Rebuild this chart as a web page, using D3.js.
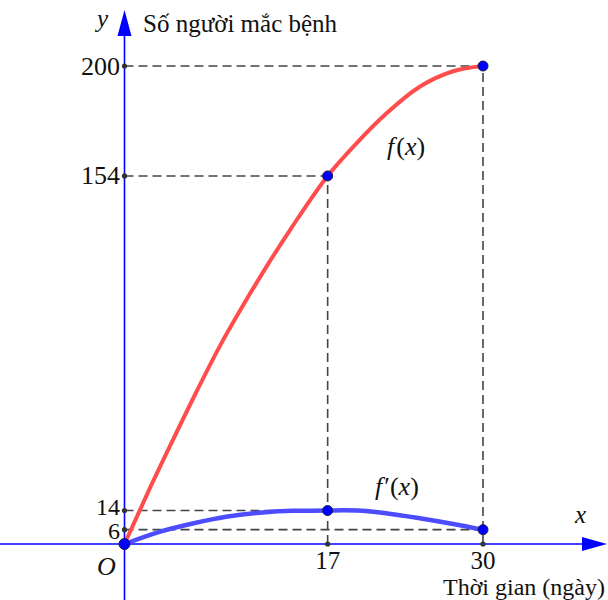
<!DOCTYPE html>
<html>
<head>
<meta charset="utf-8">
<script src="https://cdn.jsdelivr.net/npm/d3@7"></script>
<style>
  html, body { margin: 0; padding: 0; background: #fff; }
  svg text { font-family: "Liberation Serif", serif; fill: #111; }
</style>
</head>
<body>
<svg id="chart" width="608" height="600"></svg>
<script>
// ---- data ----
const fX = [0, 2, 4, 6, 8, 10, 12, 14, 17, 19.2, 22, 24.7, 27.5, 30];
const fY = [0, 22, 43, 63.5, 83, 100.5, 117, 132.5, 154, 166.5, 180.5, 191.3, 197.8, 200];
const dX = [0, 3, 5.8, 8.5, 11.3, 14.1, 17, 18.3, 19.5, 22, 24.7, 27.5, 30];
const dY = [0, 5.2, 8.7, 11.4, 13.1, 13.9, 14, 14.1, 14, 12.8, 10.8, 8.4, 6];
const xTicks = [17, 30];
const yTicks = [200, 154, 14, 6];
const markedX = [0, 17, 30, 17, 30];
const markedY = [0, 154, 200, 14, 6];
const guideH = [[200, 30], [154, 17], [14, 17], [6, 30]];   // [y value, x end]
const guideV = [[17, 154], [30, 200]];                       // [x value, y end]

const FONT = "Liberation Serif, serif";
const svg = d3.select("#chart");
const x = d3.scaleLinear().domain([0, 30]).range([124.5, 483]);
const y = d3.scaleLinear().domain([0, 200]).range([544, 66]);

const blue = "#0000ff";

// axes lines
svg.append("line").attr("x1", 0).attr("x2", 590).attr("y1", y(0)).attr("y2", y(0))
  .attr("stroke", blue).attr("stroke-width", 1.6);
svg.append("line").attr("x1", x(0)).attr("x2", x(0)).attr("y1", 600).attr("y2", 28)
  .attr("stroke", blue).attr("stroke-width", 1.6);
// arrow heads
svg.append("path")
  .attr("d", `M${x(0)},10 L${x(0) - 7},36 L${x(0) + 7},36 Z`).attr("fill", blue);
svg.append("path")
  .attr("d", `M607,${y(0)} L582,${y(0) - 7} L582,${y(0) + 7} Z`).attr("fill", blue);

// dashed guide lines
const dash = "9,5";
guideH.forEach(([v, xe]) => {
  svg.append("line").attr("x1", x(0)).attr("x2", x(xe)).attr("y1", y(v)).attr("y2", y(v))
    .attr("stroke", "#444").attr("stroke-width", 1.6).attr("stroke-dasharray", dash);
});
guideV.forEach(([v, ye]) => {
  svg.append("line").attr("x1", x(v)).attr("x2", x(v)).attr("y1", y(0)).attr("y2", y(ye))
    .attr("stroke", "#444").attr("stroke-width", 1.6).attr("stroke-dasharray", dash);
});

// small tick dots on axes
yTicks.forEach(v => svg.append("circle").attr("cx", x(0)).attr("cy", y(v)).attr("r", 2.6).attr("fill", "#333"));
xTicks.forEach(v => svg.append("circle").attr("cx", x(v)).attr("cy", y(0)).attr("r", 2.6).attr("fill", "#333"));

// curves
const line = d3.line().x(d => x(d[0])).y(d => y(d[1])).curve(d3.curveMonotoneX);
svg.append("path").datum(fX.map((v, i) => [v, fY[i]])).attr("d", line)
  .attr("fill", "none").attr("stroke", "#ff4d4d").attr("stroke-width", 4).attr("stroke-linecap", "round");
svg.append("path").datum(dX.map((v, i) => [v, dY[i]])).attr("d", line)
  .attr("fill", "none").attr("stroke", "#4d4dff").attr("stroke-width", 4.5).attr("stroke-linecap", "round");

// marked points
markedX.forEach((v, i) => {
  svg.append("circle").attr("cx", x(v)).attr("cy", y(markedY[i])).attr("r", i === 0 ? 5.5 : 5)
    .attr("fill", blue).attr("stroke", "#1a1a4d").attr("stroke-width", 1);
});

function txt(xp, yp, size, s, opts = {}) {
  const t = svg.append("text").attr("x", xp).attr("y", yp).attr("font-size", size)
    .attr("font-family", FONT).attr("text-anchor", opts.anchor || "start");
  if (opts.italic) t.attr("font-style", "italic");
  t.text(s);
  return t;
}

// tick labels
const yOff = { 200: 9, 154: 8, 14: 4.5, 6: 9 };
yTicks.forEach(v => txt(120, y(v) + yOff[v], v < 20 ? 24 : 26, v, { anchor: "end" }));
xTicks.forEach(v => txt(x(v), 569, 25, v, { anchor: "middle" }));
txt(97, 575, 26, "O", { italic: true });

// axis names
txt(97, 27, 25, "y", { italic: true });
txt(575, 523, 25, "x", { italic: true });
txt(143, 32, 25, "Số người mắc bệnh");
txt(605, 595, 24, "Thời gian (ngày)", { anchor: "end" });

// function labels
function fnLabel(xp, yp, prime) {
  const t = svg.append("text").attr("x", xp).attr("y", yp).attr("font-size", 26).attr("font-family", FONT);
  t.append("tspan").attr("font-style", "italic").text("f");
  t.append("tspan").attr("dx", 2).text(prime ? "′(" : "(");
  t.append("tspan").attr("font-style", "italic").text("x");
  t.append("tspan").text(")");
}
fnLabel(387, 155, false);
fnLabel(375, 495, true);
</script>
</body>
</html>
